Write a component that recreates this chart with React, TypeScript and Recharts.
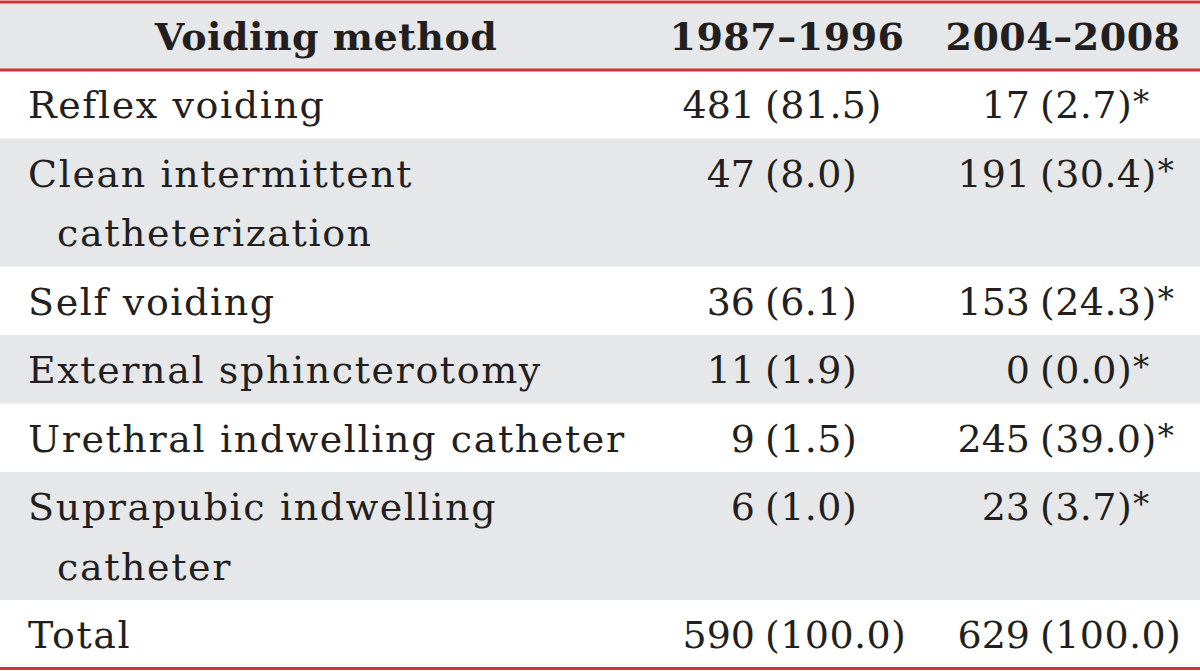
import React from "react";
import {
  ComposedChart,
  XAxis,
  YAxis,
  Scatter,
  ReferenceArea,
  ReferenceLine,
} from "recharts";

// table content
const columnHeaders = ["Voiding method", "1987–1996", "2004–2008"];
const methodLines = [
  ["Reflex voiding"],
  ["Clean intermittent", "catheterization"],
  ["Self voiding"],
  ["External sphincterotomy"],
  ["Urethral indwelling catheter"],
  ["Suprapubic indwelling", "catheter"],
  ["Total"],
];
const counts1987 = [481, 47, 36, 11, 9, 6, 590];
const pct1987 = [81.5, 8.0, 6.1, 1.9, 1.5, 1.0, 100.0];
const counts2004 = [17, 191, 153, 0, 245, 23, 629];
const pct2004 = [2.7, 30.4, 24.3, 0.0, 39.0, 3.7, 100.0];
const significant = [true, true, true, true, true, true, false];

// layout
const W = 1200;
const H = 671;
const TOP = 2;
const HEADER_H = 68;
const LINE_H = 59.5;
const PAD = 9;
const FONT = "'DejaVu Serif', serif";
const FONT_SIZE = 38;
const INK = "#231f20";
const BAND = "#e6e7e8";
const RED = "#d2323d";

const headerX = [326, 787, 1063];
const labelX = 28;
const wrapIndent = 57;
const countEnd = [755, 1030];
const BASE = 48;

const rowHeights = methodLines.map((l) => PAD + l.length * LINE_H);
const rowTops: number[] = [];
rowHeights.reduce((acc, h) => {
  rowTops.push(acc);
  return acc + h;
}, HEADER_H);
const tableH = HEADER_H + rowHeights.reduce((a, b) => a + b, 0);

const headerPoints = columnHeaders.map((t, i) => ({
  x: headerX[i],
  y: HEADER_H / 2 + 14,
  text: t,
}));

const labelPoints = methodLines.flatMap((lines, r) =>
  lines.map((t, j) => ({
    x: j === 0 ? labelX : wrapIndent,
    y: rowTops[r] + BASE + j * LINE_H,
    text: t,
  }))
);

const cellPoints = methodLines.flatMap((_, r) => [
  {
    x: countEnd[0],
    y: rowTops[r] + BASE,
    count: counts1987[r],
    pct: pct1987[r],
    star: false,
  },
  {
    x: countEnd[1],
    y: rowTops[r] + BASE,
    count: counts2004[r],
    pct: pct2004[r],
    star: significant[r],
  },
]);

const HeaderText = (props: any) => (
  <text
    x={props.cx}
    y={props.cy}
    textAnchor="middle"
    fontFamily={FONT}
    fontSize={FONT_SIZE}
    fontWeight="bold"
    letterSpacing={0.5}
    fill={INK}
  >
    {props.payload.text}
  </text>
);

const LabelText = (props: any) => (
  <text
    x={props.cx}
    y={props.cy}
    textAnchor="start"
    fontFamily={FONT}
    fontSize={FONT_SIZE}
    letterSpacing={1.6}
    fill={INK}
  >
    {props.payload.text}
  </text>
);

const CellText = (props: any) => {
  const p = props.payload;
  return (
    <g fontFamily={FONT} fontSize={FONT_SIZE} fill={INK}>
      <text x={props.cx} y={props.cy} textAnchor="end">
        {p.count}
      </text>
      <text x={props.cx + 10} y={props.cy} textAnchor="start" letterSpacing={0.4}>
        ({p.pct.toFixed(1)})
        {p.star ? (
          <tspan fontSize={FONT_SIZE * 0.85} dx={1} dy={-5}>
            *
          </tspan>
        ) : null}
      </text>
    </g>
  );
};

export default function App() {
  return (
    <div
      style={{
        position: "absolute",
        left: 0,
        top: 0,
        width: W,
        height: H,
        background: "#fff",
      }}
    >
      <ComposedChart
        width={W}
        height={H}
        margin={{ top: TOP, right: 0, bottom: H - TOP - tableH, left: 0 }}
      >
        <XAxis type="number" dataKey="x" domain={[0, W]} hide />
        <YAxis type="number" dataKey="y" domain={[0, tableH]} reversed hide />
        <ReferenceArea
          x1={0}
          x2={W}
          y1={0}
          y2={HEADER_H}
          fill={BAND}
          fillOpacity={1}
          strokeWidth={0}
          ifOverflow="visible"
        />
        {rowTops.map((t, r) =>
          r % 2 === 1 ? (
            <ReferenceArea
              key={r}
              x1={0}
              x2={W}
              y1={t}
              y2={t + rowHeights[r]}
              fill={BAND}
              fillOpacity={1}
              strokeWidth={0}
              ifOverflow="visible"
            />
          ) : null
        )}
        {[0, HEADER_H, tableH].map((y) => (
          <ReferenceLine
            key={y}
            y={y}
            stroke={RED}
            strokeWidth={3}
            ifOverflow="visible"
          />
        ))}
        <Scatter
          data={headerPoints}
          shape={HeaderText}
          isAnimationActive={false}
        />
        <Scatter
          data={labelPoints}
          shape={LabelText}
          isAnimationActive={false}
        />
        <Scatter
          data={cellPoints}
          shape={CellText}
          isAnimationActive={false}
        />
      </ComposedChart>
    </div>
  );
}
